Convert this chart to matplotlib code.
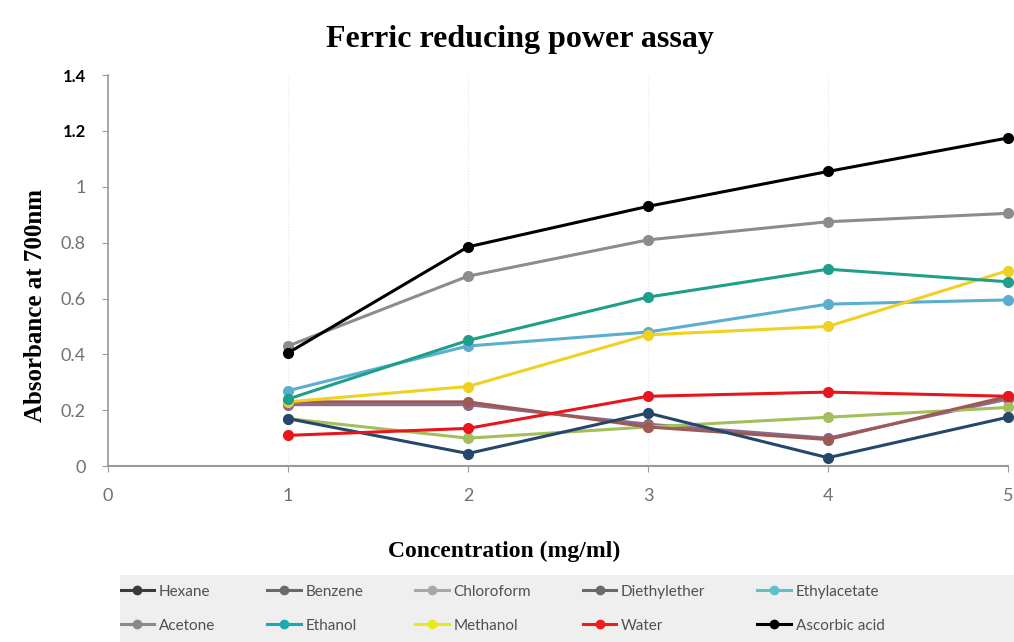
import matplotlib
matplotlib.use('agg')
import matplotlib.pyplot as plt
from matplotlib.lines import Line2D
from matplotlib.patches import Rectangle

conc = [1, 2, 3, 4, 5]

hexane = [0.17, 0.045, 0.19, 0.03, 0.175]
benzene = [0.23, 0.23, 0.14, 0.095, 0.25]
chloroform = [0.17, 0.10, 0.14, 0.175, 0.21]
diethylether = [0.22, 0.22, 0.15, 0.10, 0.24]
ethylacetate = [0.27, 0.43, 0.48, 0.58, 0.595]
acetone = [0.43, 0.68, 0.81, 0.875, 0.905]
ethanol = [0.24, 0.45, 0.605, 0.705, 0.66]
methanol = [0.23, 0.285, 0.47, 0.50, 0.70]
water = [0.11, 0.135, 0.25, 0.265, 0.25]
ascorbic = [0.405, 0.785, 0.93, 1.055, 1.175]

names = ['Hexane', 'Benzene', 'Chloroform', 'Diethylether', 'Ethylacetate',
         'Acetone', 'Ethanol', 'Methanol', 'Water', 'Ascorbic acid']
series = [hexane, benzene, chloroform, diethylether, ethylacetate,
          acetone, ethanol, methanol, water, ascorbic]

line_colors = ['#24476b', '#9e5a52', '#a3be5c', '#8a6a90', '#5aaed0',
               '#8c8c8c', '#1f9e8a', '#f0d020', '#e8161c', '#000000']
key_colors = ['#3a3a3a', '#6a6a6a', '#a8a8a8', '#6a6a6a', '#5fc0c8',
              '#8a8a8a', '#20a8b0', '#e8e820', '#ee1c1c', '#000000']

# drawing order: hidden ones first, reference compound on top
draw_order = [3, 2, 1, 0, 8, 4, 7, 6, 5, 9]

fig = plt.figure(figsize=(10.14, 6.42), dpi=100)
ax = fig.add_axes([0.1065, 0.274, 0.8875, 0.609])

for k, i in enumerate(draw_order):
    ax.plot(conc, series[i], color=line_colors[i], linewidth=2.2,
            marker='o', markersize=7, clip_on=False, zorder=3 + k * 0.1)

ax.set_xlim(0, 5)
ax.set_ylim(0, 1.4)
ax.set_xticks([0, 1, 2, 3, 4, 5])
ax.set_yticks([0, 0.2, 0.4, 0.6, 0.8, 1, 1.2, 1.4])
ax.set_yticklabels(['0', '0.2', '0.4', '0.6', '0.8', '1', '1.2', '1.4'])

for s in ['top', 'right']:
    ax.spines[s].set_visible(False)
ax.spines['left'].set_color('#9a9a9a')
ax.spines['bottom'].set_color('#9a9a9a')
ax.spines['left'].set_linewidth(1.2)
ax.spines['bottom'].set_linewidth(1.5)

ax.tick_params(axis='x', colors='#9a9a9a', labelcolor='#707070',
               labelsize=13, length=4, pad=12)
ax.tick_params(axis='y', colors='#9a9a9a', labelcolor='#707070',
               labelsize=13, length=4, pad=12)
for lab in ax.get_yticklabels()[-2:]:
    lab.set_color('black')
    lab.set_fontweight('bold')
    lab.set_fontsize(12)
for lab in ax.get_xticklabels() + ax.get_yticklabels():
    lab.set_family('Lato')

ax.grid(axis='x', color='#e6e6e6', linestyle=':', linewidth=0.8)

fig.text(0.513, 0.938, 'Ferric reducing power assay', ha='center', va='center',
         family='Liberation Serif', fontweight='bold', fontsize=23)
ax.set_xlabel('Concentration (mg/ml)', family='Liberation Serif',
              fontweight='bold', fontsize=17)
ax.xaxis.set_label_coords(0.44, -0.19)
ax.set_ylabel('Absorbance at 700nm', family='Liberation Serif',
              fontweight='bold', fontsize=18)
ax.yaxis.set_label_coords(-0.068, 0.41)

# grey band behind the legend
fig.patches.append(Rectangle((0.118, 0.0), 0.882, 0.105, transform=fig.transFigure,
                             facecolor='#efefef', edgecolor='none', zorder=0))

# legend filled row by row: 5 columns, 2 rows
handles = [Line2D([0], [0], color=key_colors[i], linewidth=2.2, marker='o',
                  markersize=6) for i in range(len(names))]
order = [0, 5, 1, 6, 2, 7, 3, 8, 4, 9]
leg = fig.legend([handles[i] for i in order], [names[i] for i in order],
                 loc='center left', bbox_to_anchor=(0.113, 0.052),
                 ncol=5, frameon=False,
                 handlelength=2.2, handletextpad=0.3, columnspacing=3.4,
                 labelspacing=1.3, borderaxespad=0.0,
                 prop={'family': 'Lato', 'size': 11})
for t in leg.get_texts():
    t.set_color('#505050')

fig.savefig('out.png', dpi=100)
plt.close(fig)
